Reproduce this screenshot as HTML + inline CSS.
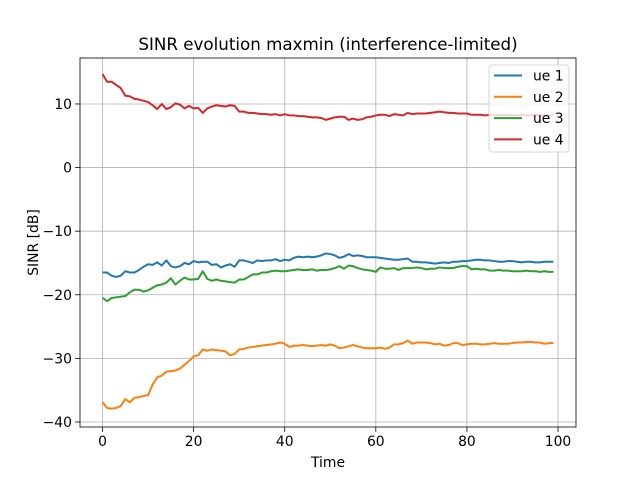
<!DOCTYPE html>
<html><head><meta charset="utf-8"><style>
html,body{margin:0;padding:0;background:#fff;}
svg{display:block;font-family:"DejaVu Sans","Liberation Sans",sans-serif;}
</style></head><body>
<svg id="chart" width="640" height="480" viewBox="0 0 640 480">
<rect width="640" height="480" fill="#fff"/>
<g id="grid"></g><g id="lines"></g><g id="axes"></g><g id="legend"></g>
</svg>
<script>
const ue1=[-16.5,-16.5,-17,-17.2,-17,-16.3,-16.5,-16.5,-16.1,-15.6,-15.2,-15.3,-14.9,-15.4,-14.6,-15.5,-15.7,-15.5,-15,-15.2,-14.7,-14.9,-14.8,-14.8,-15.3,-15.2,-15.7,-15.4,-15.2,-15.6,-14.6,-14.6,-14.8,-15,-14.6,-14.7,-14.6,-14.6,-14.4,-14.7,-14.5,-14.6,-14.2,-14,-14.1,-14,-14.1,-14,-13.8,-13.5,-13.6,-13.8,-14.2,-14,-13.6,-13.9,-13.8,-13.9,-14.1,-14.1,-14.1,-14.2,-14.3,-14.4,-14.5,-14.5,-14.4,-14.3,-14.8,-14.8,-14.9,-14.9,-15,-15.1,-15,-14.9,-15,-14.8,-14.8,-14.7,-14.7,-14.6,-14.5,-14.5,-14.6,-14.6,-14.7,-14.8,-14.8,-14.7,-14.7,-14.8,-14.9,-14.8,-14.8,-14.9,-14.9,-14.8,-14.8,-14.8];
const ue2=[-36.9,-37.8,-37.9,-37.8,-37.5,-36.4,-36.9,-36.2,-36.1,-35.9,-35.8,-34.1,-33,-32.7,-32.1,-32,-31.9,-31.6,-31,-30.4,-29.7,-29.5,-28.6,-28.8,-28.6,-28.7,-28.8,-28.9,-29.5,-29.3,-28.6,-28.5,-28.3,-28.2,-28.1,-28,-27.9,-27.8,-27.7,-27.5,-27.7,-28.2,-28,-28,-27.9,-28,-28.1,-28,-27.9,-28,-27.8,-28,-28.4,-28.3,-28.1,-27.9,-28.1,-28.3,-28.4,-28.4,-28.4,-28.3,-28.5,-28.3,-27.8,-27.8,-27.6,-27.2,-27.7,-27.5,-27.5,-27.5,-27.6,-27.8,-27.7,-28,-27.9,-27.6,-27.6,-27.9,-27.8,-27.7,-27.7,-27.8,-27.8,-27.7,-27.6,-27.7,-27.7,-27.7,-27.6,-27.5,-27.5,-27.4,-27.4,-27.5,-27.5,-27.7,-27.6,-27.6];
const ue3=[-20.5,-21,-20.5,-20.4,-20.3,-20.2,-19.6,-19.2,-19.2,-19.5,-19.3,-18.9,-18.5,-18.4,-18.1,-17.4,-18.4,-17.8,-17.3,-17.6,-17.6,-17.5,-16.3,-17.5,-17.8,-17.6,-17.8,-17.9,-18,-18.1,-17.6,-17.6,-17.2,-16.8,-16.8,-16.5,-16.5,-16.3,-16.2,-16.3,-16.3,-16.2,-16.1,-16,-16.1,-16.1,-16,-16.2,-16.1,-16.1,-16,-15.8,-15.5,-15.9,-15.4,-15.5,-15.8,-16,-16.1,-16.2,-16.4,-15.7,-15.9,-15.9,-15.8,-16.1,-15.8,-15.8,-15.8,-15.7,-15.8,-16,-15.9,-15.9,-15.7,-15.8,-15.8,-15.8,-15.6,-15.5,-15.5,-16,-15.9,-16,-16,-16.2,-16.2,-16.1,-16.2,-16.2,-16.3,-16.3,-16.3,-16.2,-16.3,-16.3,-16.4,-16.3,-16.4,-16.4];
const ue4=[14.7,13.5,13.5,13,12.5,11.3,11.2,10.8,10.7,10.5,10.3,9.8,9.2,10,9.2,9.5,10.1,9.9,9.3,9.7,9.3,9.4,8.6,9.3,9.6,9.8,9.7,9.6,9.8,9.7,8.8,8.8,8.6,8.6,8.5,8.4,8.4,8.3,8.4,8.2,8.4,8.2,8.2,8.1,8.1,8,7.9,7.9,7.8,7.5,7.7,7.9,8,8,7.5,7.7,7.5,7.6,7.9,8,8.2,8.3,8.3,8.1,8.4,8.3,8.2,8.6,8.4,8.5,8.5,8.5,8.6,8.7,8.8,8.7,8.6,8.6,8.5,8.5,8.5,8.3,8.3,8.3,8.2,8.3,8.2,8.3,8.2,8.3,8.2,8.2,8.3,8.2,8.2,8.3,8.2,8.2,8.2,8.2];
const seriesNames=["ue 1","ue 2","ue 3","ue 4"];
const xTicks=[0,20,40,60,80,100];
const yTicks=[-40,-30,-20,-10,0,10];
const colors=["#1f77b4","#ff7f0e","#2ca02c","#d62728"];
const NS="http://www.w3.org/2000/svg";
const L=80,R=576,T=58,B=427;
const xMin=-4.95,xMax=103.95,yMin=-40.79,yMax=17.23;
const sx=v=>L+(v-xMin)/(xMax-xMin)*(R-L);
const sy=v=>B-(v-yMin)/(yMax-yMin)*(B-T);
function mk(tag,attrs,parent){const e=document.createElementNS(NS,tag);for(const k in attrs)e.setAttribute(k,attrs[k]);parent.appendChild(e);return e;}
const grid=document.getElementById('grid'),axes=document.getElementById('axes'),lines=document.getElementById('lines'),legend=document.getElementById('legend');
xTicks.forEach(t=>{const x=sx(t);
 const g=mk('line',{x1:x,x2:x,y1:T,y2:B,stroke:'#b0b0b0','stroke-width':0.8},grid);
 
 
 mk('line',{x1:x,x2:x,y1:B,y2:B+4.9,stroke:'#000','stroke-width':0.8},axes);
 const tx=mk('text',{x:x,y:B+19,'text-anchor':'middle','font-size':13.9,fill:'#000'},axes);tx.textContent=t;
 
 });
yTicks.forEach(t=>{const y=sy(t);
 const g=mk('line',{x1:L,x2:R,y1:y,y2:y,stroke:'#b0b0b0','stroke-width':0.8},grid);
 
 
 mk('line',{x1:L-4.9,x2:L,y1:y,y2:y,stroke:'#000','stroke-width':0.8},axes);
 const tx=mk('text',{x:L-8,y:y+5,'text-anchor':'end','font-size':13.9,fill:'#000'},axes);tx.textContent=t===0?'0':(t<0?'\u2212'+(-t):t);
 
 });
[ue1,ue2,ue3,ue4].forEach((d,i)=>{const pts=d.map((v,j)=>sx(j).toFixed(2)+','+sy(v).toFixed(2)).join(' ');
 const p=mk('polyline',{points:pts,fill:'none',stroke:colors[i],'stroke-width':2,'stroke-linejoin':'round'},lines);
 
 });
const frame=mk('rect',{x:L,y:T,width:R-L,height:B-T,fill:'none',stroke:'#000','stroke-width':0.8},axes);


const title=mk('text',{x:(L+R)/2,y:T-8,'text-anchor':'middle','font-size':16.7,fill:'#000'},axes);title.textContent='SINR evolution maxmin (interference-limited)';


const xl=mk('text',{x:(L+R)/2,y:467,'text-anchor':'middle','font-size':13.9,fill:'#000'},axes);xl.textContent='Time';


const yl=mk('text',{x:0,y:0,'text-anchor':'middle','font-size':13.9,fill:'#000',transform:`translate(38,${(T+B)/2}) rotate(-90)`},axes);yl.textContent='SINR [dB]';


const lb=mk('rect',{x:489,y:65,width:80,height:87,rx:3,fill:'#fff','fill-opacity':0.8,stroke:'#ccc','stroke-width':0.8},legend);


seriesNames.forEach((n,i)=>{const y=75.5+i*21.3;
 const g=mk('g',{},legend);
 
 
 mk('line',{x1:494,x2:522,y1:y,y2:y,stroke:colors[i],'stroke-width':2},g);
 const t=mk('text',{x:533,y:y+5,'font-size':13.9,fill:'#000'},g);t.textContent=n;});
</script>
</body></html>
